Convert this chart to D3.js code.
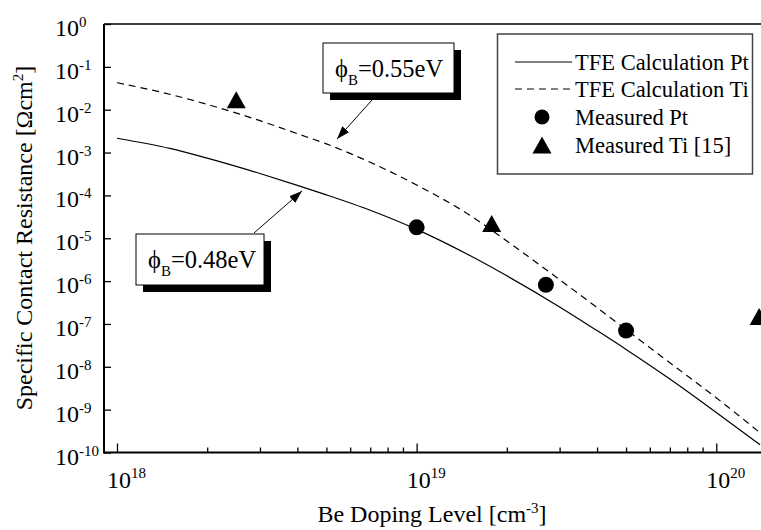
<!DOCTYPE html>
<html>
<head>
<meta charset="utf-8">
<script src="https://cdn.jsdelivr.net/npm/d3@7"></script>
<style>
  body { margin: 0; background: #fff; }
  text { font-family: "Liberation Serif", "Times New Roman", serif; fill: #000; }
</style>
</head>
<body>
<div id="chart"></div>
<script>
// TFE calculation curves (doping in cm^-3, resistance in ohm cm^2)
const dopingCalc = [1e18, 1.5e18, 2e18, 3e18, 4e18, 5e18, 7e18, 1e19, 1.5e19, 2e19, 3e19, 4e19, 5e19, 7e19, 1e20, 1.4e20]
const rhoCalcPt = [2.16e-3, 1.25e-3, 7.4e-4, 3.24e-4, 1.72e-4, 1.03e-4, 4.5e-5, 1.61e-5, 4.0e-6, 1.33e-6, 2.5e-7, 7.0e-8, 2.55e-8, 5.2e-9, 8.6e-10, 1.51e-10]
const rhoCalcTi = [4.27e-2, 2.29e-2, 1.33e-2, 5.55e-3, 2.75e-3, 1.59e-3, 5.94e-4, 1.75e-4, 3.5e-5, 8.6e-6, 1.08e-6, 2.41e-7, 7.4e-8, 1.24e-8, 1.89e-9, 2.88e-10]

// measured points
const dopingMeasPt = [1e19, 2.7e19, 5e19]
const rhoMeasPt = [1.8e-5, 8.2e-7, 7e-8]
const dopingMeasTi = [2.5e18, 1.78e19, 1.39e20]
const rhoMeasTi = [1.7e-2, 2.2e-5, 1.5e-7]

const legendLabels = ["TFE Calculation Pt", "TFE Calculation Ti", "Measured Pt", "Measured Ti [15]"]

const width = 761, height = 530
const plot = {left: 104, right: 761, top: 24, bottom: 452.5}

const svg = d3.select('#chart').append('svg')
    .attr('width', width)
    .attr('height', height)

const x = d3.scaleLog().domain([9.05e17, 1.41e20]).range([plot.left, plot.right])
const y = d3.scaleLog().domain([1e-10, 1]).range([plot.bottom, plot.top])

const isMajor = d => Math.abs(Math.log10(d) - Math.round(Math.log10(d))) < 1e-9

// x ticks (inside)
const xt = x.ticks().filter(d => d >= 1e18)
svg.append('g')
    .attr('transform', 'translate(0,' + plot.bottom + ')')
    .call(d3.axisBottom(x).tickValues(xt.filter(d => !isMajor(d))).tickSize(-5).tickFormat(''))
    .call(g => g.select('.domain').remove())
svg.append('g')
    .attr('transform', 'translate(0,' + plot.bottom + ')')
    .call(d3.axisBottom(x).tickValues(xt.filter(isMajor)).tickSize(-9).tickFormat(''))
    .call(g => g.select('.domain').remove())

// y ticks (inside)
const yt = y.ticks()
svg.append('g')
    .attr('transform', 'translate(' + plot.left + ',0)')
    .call(d3.axisLeft(y).tickValues(yt.filter(d => !isMajor(d))).tickSize(-4).tickFormat(''))
    .call(g => g.select('.domain').remove())
svg.append('g')
    .attr('transform', 'translate(' + plot.left + ',0)')
    .call(d3.axisLeft(y).tickValues(yt.filter(isMajor)).tickSize(-7).tickFormat(''))
    .call(g => g.select('.domain').remove())
svg.selectAll('.tick line').attr('stroke', '#000').attr('stroke-width', 1.3)

// frame
svg.append('line').attr('x1', plot.left).attr('x2', plot.right).attr('y1', plot.bottom).attr('y2', plot.bottom)
    .attr('stroke', '#000').attr('stroke-width', 2)
svg.append('line').attr('x1', plot.left).attr('x2', plot.left).attr('y1', plot.top).attr('y2', plot.bottom + 1)
    .attr('stroke', '#000').attr('stroke-width', 2)
svg.append('line').attr('x1', plot.left).attr('x2', plot.right).attr('y1', plot.top).attr('y2', plot.top)
    .attr('stroke', '#000').attr('stroke-width', 1.5)

// tick labels
xt.filter(isMajor).forEach(d => {
    const t = svg.append('text').attr('x', x(d) - 10).attr('y', 488).style('font-size', '24px')
    t.append('tspan').text('10')
    t.append('tspan').attr('dy', -10).style('font-size', '15px').text(Math.round(Math.log10(d)))
})
yt.filter(isMajor).forEach(d => {
    const t = svg.append('text').attr('x', 55).attr('y', y(d) + 12).style('font-size', '24px')
    t.append('tspan').text('10')
    t.append('tspan').attr('dy', -9).style('font-size', '15px').text(Math.round(Math.log10(d)))
})

// axis titles
const xl = svg.append('text').attr('x', 432).attr('y', 522).attr('text-anchor', 'middle').style('font-size', '24px')
xl.append('tspan').text('Be Doping Level [cm')
xl.append('tspan').attr('dy', -9).style('font-size', '15px').text('-3')
xl.append('tspan').attr('dy', 9).text(']')

const yl = svg.append('text').attr('transform', 'translate(32,238) rotate(-90)')
    .attr('text-anchor', 'middle').style('font-size', '24px')
yl.append('tspan').text('Specific Contact Resistance [\u03A9cm')
yl.append('tspan').attr('dy', -9).style('font-size', '15px').text('2')
yl.append('tspan').attr('dy', 9).text(']')

// curves
const line = d3.line().x(d => x(d[0])).y(d => y(d[1])).curve(d3.curveMonotoneX)
svg.append('path').datum(dopingCalc.map((d, i) => [d, rhoCalcPt[i]]))
    .attr('d', line).attr('fill', 'none').attr('stroke', '#000').attr('stroke-width', 1.2)
svg.append('path').datum(dopingCalc.map((d, i) => [d, rhoCalcTi[i]]))
    .attr('d', line).attr('fill', 'none').attr('stroke', '#000').attr('stroke-width', 1.2)
    .attr('stroke-dasharray', '7,5')

// markers
const tri = (cx, cy) => 'M' + cx + ',' + (cy - 8.5) + 'L' + (cx + 9.5) + ',' + (cy + 8.5) + 'L' + (cx - 9.5) + ',' + (cy + 8.5) + 'Z'
svg.selectAll('circle.pt').data(dopingMeasPt.map((d, i) => [d, rhoMeasPt[i]])).enter()
    .append('circle').attr('class', 'pt')
    .attr('cx', d => x(d[0])).attr('cy', d => y(d[1])).attr('r', 8).attr('fill', '#000')
svg.selectAll('path.ti').data(dopingMeasTi.map((d, i) => [d, rhoMeasTi[i]])).enter()
    .append('path').attr('class', 'ti')
    .attr('d', d => tri(x(d[0]), y(d[1]))).attr('fill', '#000')

// arrow marker
svg.append('defs').append('marker')
    .attr('id', 'arr').attr('viewBox', '0 0 10 10').attr('refX', 10).attr('refY', 5)
    .attr('markerWidth', 13).attr('markerHeight', 13).attr('markerUnits', 'userSpaceOnUse')
    .attr('orient', 'auto')
    .append('path').attr('d', 'M0,1.5L10,5L0,8.5Z').attr('fill', '#000')

// annotation boxes
function note(bx, by, bw, bh, label, from, to) {
    svg.append('rect').attr('x', bx + 7).attr('y', by + 7).attr('width', bw).attr('height', bh).attr('fill', '#000')
    svg.append('rect').attr('x', bx).attr('y', by).attr('width', bw).attr('height', bh)
        .attr('fill', '#fff').attr('stroke', '#000').attr('stroke-width', 1)
    const t = svg.append('text').attr('x', bx + 12).attr('y', by + 34).style('font-size', '24.5px')
    t.append('tspan').text('\u03D5')
    t.append('tspan').attr('dy', 8).style('font-size', '15px').text('B')
    t.append('tspan').attr('dy', -8).text(label)
    svg.append('line').attr('x1', from[0]).attr('y1', from[1]).attr('x2', to[0]).attr('y2', to[1])
        .attr('stroke', '#000').attr('stroke-width', 1).attr('marker-end', 'url(#arr)')
}
note(323, 43, 131, 50, '=0.55eV', [372, 100], [337, 139])
note(136, 234, 128, 51, '=0.48eV', [254, 233], [302, 191])

// legend
const lg = svg.append('g')
lg.append('rect').attr('x', 497.5).attr('y', 34).attr('width', 255).attr('height', 140)
    .attr('fill', '#fff').attr('stroke', '#444').attr('stroke-width', 1.5)
const rowY = [62, 89, 117, 145]
lg.append('line').attr('x1', 515).attr('x2', 572).attr('y1', rowY[0]).attr('y2', rowY[0])
    .attr('stroke', '#000').attr('stroke-width', 1.2)
lg.append('line').attr('x1', 515).attr('x2', 572).attr('y1', rowY[1]).attr('y2', rowY[1])
    .attr('stroke', '#000').attr('stroke-width', 1.2).attr('stroke-dasharray', '7,5')
lg.append('circle').attr('cx', 542).attr('cy', rowY[2]).attr('r', 7.5).attr('fill', '#000')
lg.append('path').attr('d', tri(542, rowY[3])).attr('fill', '#000')
legendLabels.forEach((s, i) => {
    lg.append('text').attr('x', 575).attr('y', rowY[i] + 8).style('font-size', '22.5px').text(s)
})
</script>
</body>
</html>
